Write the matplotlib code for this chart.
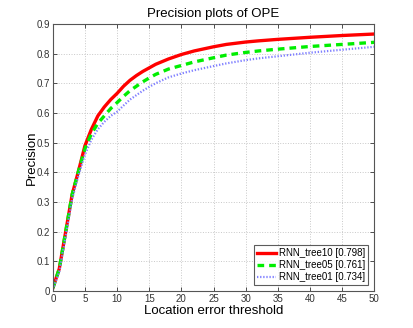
import numpy as np
import matplotlib
matplotlib.use("Agg")
import matplotlib.pyplot as plt

# thresholds and precision values
thresh = [0, 1, 2, 3, 4, 5, 6, 7, 8, 9, 10, 11, 12, 13, 14, 15, 16, 18, 20, 22, 25, 27, 30, 32,
          35, 40, 45, 50]
tree10 = [0.01, 0.075, 0.20, 0.325, 0.405, 0.49, 0.545, 0.59, 0.62, 0.645, 0.666, 0.69, 0.71,
          0.726, 0.74, 0.752, 0.764, 0.782, 0.797, 0.809, 0.823, 0.831, 0.839, 0.843, 0.848,
          0.855, 0.861, 0.866]
tree05 = [0.01, 0.075, 0.20, 0.325, 0.405, 0.48, 0.53, 0.565, 0.59, 0.615, 0.635, 0.656, 0.675,
          0.69, 0.705, 0.718, 0.73, 0.748, 0.76, 0.772, 0.786, 0.795, 0.804, 0.809, 0.815,
          0.824, 0.831, 0.838]
tree01 = [0.005, 0.065, 0.185, 0.31, 0.39, 0.46, 0.51, 0.545, 0.57, 0.59, 0.604, 0.625, 0.645,
          0.66, 0.675, 0.688, 0.70, 0.72, 0.733, 0.744, 0.758, 0.767, 0.778, 0.784, 0.791,
          0.803, 0.813, 0.823]
labels = ["RNN_tree10 [0.798]", "RNN_tree05 [0.761]", "RNN_tree01 [0.734]"]

plt.rcParams['font.family'] = ['Liberation Sans', 'DejaVu Sans']

fig = plt.figure(figsize=(4.13, 3.28), dpi=100)
ax = fig.add_axes([0.128, 0.113, 0.778, 0.814])

ax.plot(thresh, tree10, color='red', lw=2.4, ls='-', label=labels[0])
ax.plot(thresh, tree05, color='#00ee00', lw=2.4, ls=(0, (2, 1.5)), label=labels[1])
ax.plot(thresh, tree01, color='#8080ff', lw=1.6, ls=(0, (0.6, 0.8)), label=labels[2])

ax.set_xlim(0, 50)
ax.set_ylim(0, 0.9)
ax.set_xticks(np.arange(0, 51, 5))
ax.set_yticks(np.arange(0, 0.91, 0.1))
ax.set_yticklabels(["0"] + ["%.1f" % v for v in np.arange(0.1, 0.91, 0.1)])
ax.tick_params(direction='in', labelsize=7, top=True, right=True, length=3, width=0.6,
               colors='#333333', pad=2)
ax.grid(True, ls=':', color='#c8c8c8', lw=0.7)
for s in ax.spines.values():
    s.set_color('#555555')
    s.set_linewidth(0.8)

ax.set_title("Precision plots of OPE", fontsize=9.5, pad=5)
ax.set_xlabel("Location error threshold", fontsize=9.5, labelpad=1)
ax.set_ylabel("Precision", fontsize=9.5, labelpad=-1)

leg = ax.legend(loc='lower right', fontsize=7, frameon=True, fancybox=False,
                handlelength=2.0, handletextpad=0.3, borderpad=0.3, labelspacing=0.22,
                borderaxespad=0.6)
leg.get_frame().set_edgecolor('#333333')
leg.get_frame().set_linewidth(0.8)

fig.savefig("out.png", dpi=100)
